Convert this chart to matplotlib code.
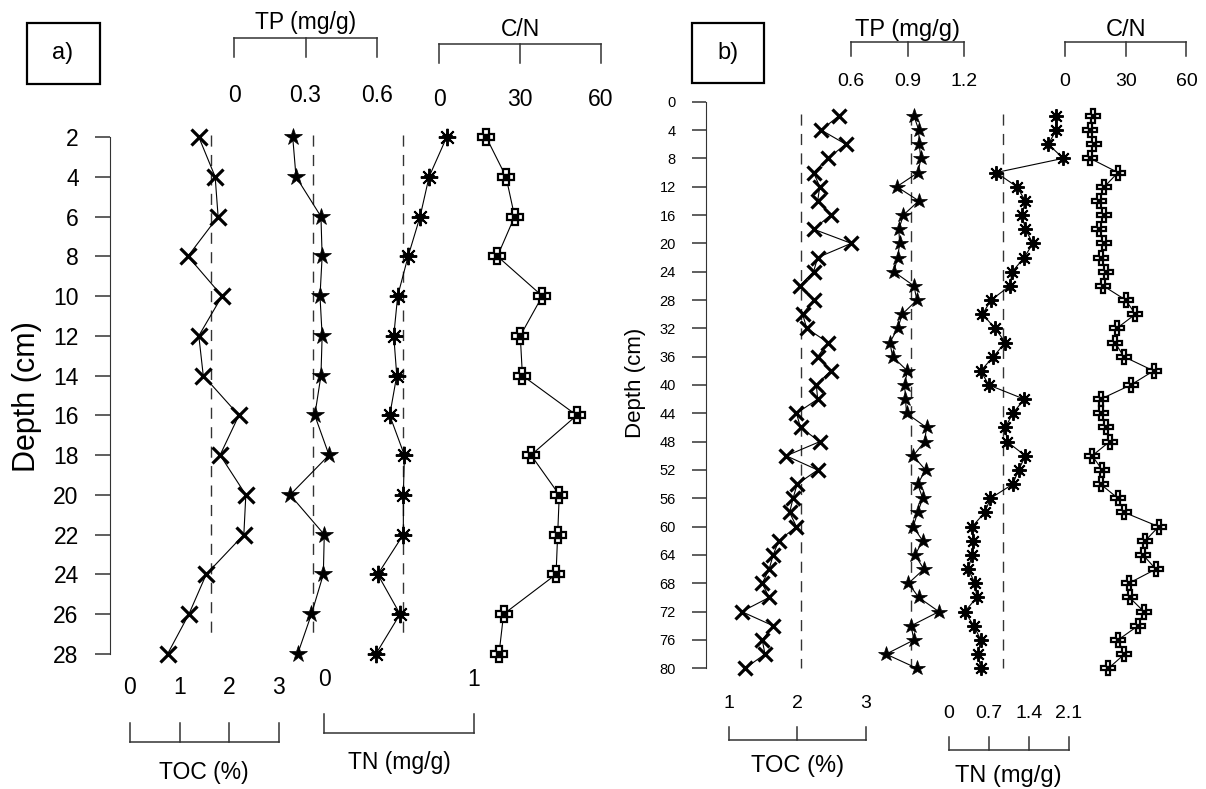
import numpy as np
import matplotlib
matplotlib.use("Agg")
import matplotlib.pyplot as plt
from matplotlib.transforms import blended_transform_factory

W, H = 1206, 789
FAM = ["Liberation Sans", "DejaVu Sans"]

# ---- panel a data (depth in cm) ----
depth_a = [2, 4, 6, 8, 10, 12, 14, 16, 18, 20, 22, 24, 26, 28]
toc_a = [1.39, 1.72, 1.78, 1.17, 1.86, 1.39, 1.48, 2.20, 1.82, 2.34, 2.30, 1.54, 1.19, 0.76]
tp_a = [0.246, 0.26, 0.365, 0.37, 0.361, 0.37, 0.365, 0.339, 0.399, 0.235, 0.379, 0.375, 0.325, 0.267]
tn_a = [0.818, 0.70, 0.64, 0.56, 0.49, 0.464, 0.484, 0.437, 0.535, 0.528, 0.528, 0.357, 0.506, 0.345]
cn_a = [17.4, 24.8, 28.0, 21.6, 38.3, 30.1, 30.9, 51.1, 34.1, 44.6, 44.0, 43.4, 23.9, 22.2]
mean_a = {"toc": 1.64, "tp": 0.333, "tn": 0.528}

# ---- panel b data ----
depth_b = [2, 4, 6, 8, 10, 12, 14, 16, 18, 20, 22, 24, 26, 28, 30, 32, 34, 36, 38, 40,
           42, 44, 46, 48, 50, 52, 54, 56, 58, 60, 62, 64, 66, 68, 70, 72, 74, 76, 78, 80]
toc_b = [2.61, 2.35, 2.71, 2.45, 2.24, 2.33, 2.30, 2.49, 2.24, 2.79, 2.30, 2.24, 2.04, 2.24,
         2.08, 2.14, 2.45, 2.30, 2.49, 2.28, 2.30, 1.99, 2.05, 2.33, 1.84, 2.30, 2.00, 1.94,
         1.89, 1.99, 1.73, 1.65, 1.59, 1.49, 1.59, 1.19, 1.65, 1.49, 1.53, 1.24]
tp_b = [0.933, 0.959, 0.961, 0.970, 0.955, 0.842, 0.959, 0.877, 0.853, 0.857, 0.847, 0.826,
        0.933, 0.949, 0.871, 0.847, 0.805, 0.820, 0.898, 0.884, 0.888, 0.894, 1.000, 0.990,
        0.929, 0.995, 0.953, 0.980, 0.953, 0.929, 0.980, 0.939, 0.986, 0.904, 0.959, 1.066,
        0.918, 0.933, 0.785, 0.949]
tn_b = [1.87, 1.88, 1.74, 2.00, 0.83, 1.19, 1.34, 1.28, 1.34, 1.47, 1.32, 1.11, 1.07, 0.74,
        0.59, 0.81, 0.99, 0.78, 0.56, 0.70, 1.32, 1.12, 0.99, 1.02, 1.34, 1.22, 1.12, 0.73,
        0.63, 0.41, 0.43, 0.41, 0.34, 0.46, 0.49, 0.28, 0.44, 0.56, 0.51, 0.56]
cn_b = [13.8, 12.4, 14.3, 12.4, 26.2, 19.5, 17.0, 19.1, 16.6, 19.1, 17.6, 20.1, 18.9, 30.0,
        34.8, 25.6, 24.7, 29.1, 43.8, 32.5, 17.6, 17.6, 20.5, 22.0, 13.4, 18.5, 17.6, 26.2,
        29.4, 46.3, 39.6, 38.6, 44.9, 31.5, 31.9, 39.0, 36.1, 26.2, 29.4, 21.5]
mean_b = {"toc": 2.06, "tp": 0.92, "tn": 0.95}

fig = plt.figure(figsize=(W / 100, H / 100), dpi=100)


def fy(py):
    return 1 - py / H


def column(px0, k, v0, d0, kd):
    # value v sits at pixel x = px0 + k*(v - v0); depth d at pixel y = d0 + kd*d
    ax = fig.add_axes([0, 0, 1, 1])
    ax.set_xlim(v0 - px0 / k, v0 + (W - px0) / k)
    ax.set_ylim((H - d0) / kd, -d0 / kd)
    ax.set_axis_off()
    return ax


def bracket(ax, ticks, labels, py_line, py_tick, py_lab, title, py_title, fs_lab, fs_title):
    tr = blended_transform_factory(ax.transData, fig.transFigure)
    ax.plot([ticks[0], ticks[-1]], [fy(py_line)] * 2, color="#333333", lw=1.1,
            transform=tr, clip_on=False)
    for t, lab in zip(ticks, labels):
        ax.plot([t, t], [fy(py_line), fy(py_tick)], color="#333333", lw=1.1,
                transform=tr, clip_on=False)
        ax.text(t, fy(py_lab), lab, transform=tr, ha="center", va="center",
                fontsize=fs_lab, family=FAM)
    ax.text((ticks[0] + ticks[-1]) / 2, fy(py_title), title, transform=tr,
            ha="center", va="center", fontsize=fs_title, family=FAM)


def link(ax, x, d):
    ax.plot(x, d, color="k", lw=0.8, zorder=2)


def mark_toc(ax, x, d, ms):
    link(ax, x, d)
    ax.plot(x, d, ls="none", marker="x", ms=ms, mew=2.3, color="k", zorder=3)


def mark_tp(ax, x, d, ms):
    link(ax, x, d)
    ax.plot(x, d, ls="none", marker="*", ms=ms, mew=0.5, color="k", zorder=3)


def mark_tn(ax, x, d, ms):
    link(ax, x, d)
    ax.plot(x, d, ls="none", marker=(8, 2, 0), ms=ms, mew=1.4, color="k", zorder=3)
    ax.plot(x, d, ls="none", marker="*", ms=ms * 0.6, color="k", zorder=3)


def mark_cn(ax, x, d, ms):
    link(ax, x, d)
    ax.plot(x, d, ls="none", marker="P", ms=ms, mew=1.6, mfc="white", mec="k", zorder=3)
    ax.plot(x, d, ls="none", marker="s", ms=ms * 0.32, color="k", zorder=4)


def mean_line(ax, m, d1, d2):
    ax.plot([m, m], [d1, d2], color="#333333", lw=1.0, ls=(0, (8, 6)), zorder=1)


def depth_axis(px, d0, kd, bounds, ticks, tick_len, fs, pad):
    ax = fig.add_axes([px / W, 0, 0.001, 1])
    ax.set_ylim((H - d0) / kd, -d0 / kd)
    for s in ["top", "right", "bottom"]:
        ax.spines[s].set_visible(False)
    ax.spines["left"].set_bounds(*bounds)
    ax.spines["left"].set_color("#333333")
    ax.patch.set_visible(False)
    ax.set_xticks([])
    ax.set_yticks(ticks)
    ax.tick_params(axis="y", length=tick_len, width=1.1, color="#333333", pad=pad)
    for lab in ax.get_yticklabels():
        lab.set_family(FAM)
        lab.set_fontsize(fs)
    return ax


# ================= panel a =================
d0a, kda = 97.24, 19.88
ax = column(130, 49.5, 0, d0a, kda)
mean_line(ax, mean_a["toc"], 1.9, 27.0)
mark_toc(ax, toc_a, depth_a, 11.5)
bracket(ax, [0, 1, 2, 3], ["0", "1", "2", "3"], 742, 723, 688, "TOC (%)", 773, 16.5, 16.5)

ax = column(234.3, 237.4, 0, d0a, kda)
mean_line(ax, mean_a["tp"], 1.9, 27.0)
mark_tp(ax, tp_a, depth_a, 13)
bracket(ax, [0, 0.3, 0.6], ["0", "0.3", "0.6"], 38, 57, 95, "TP (mg/g)", 23, 16.5, 16.5)

ax = column(324.3, 149.7, 0, d0a, kda)
mean_line(ax, mean_a["tn"], 1.9, 27.0)
mark_tn(ax, tn_a, depth_a, 12.5)
bracket(ax, [0, 1], ["0", "1"], 733, 714, 679, "TN (mg/g)", 763, 16.5, 16.5)

ax = column(439.3, 2.69, 0, d0a, kda)
mark_cn(ax, cn_a, depth_a, 11.5)
bracket(ax, [0, 30, 60], ["0", "30", "60"], 44, 63, 100, "C/N", 30, 16.5, 16.5)

depth_axis(110.3, d0a, kda, (2, 28), depth_a, 10.8, 16.5, 12)
fig.text(27 / W, fy(397), "Depth (cm)", rotation=90, ha="center", va="center",
         fontsize=22, family=FAM)
fig.patches.append(plt.Rectangle((27 / W, fy(84)), 73 / W, 61 / H, fill=False,
                                 lw=1.6, ec="k", transform=fig.transFigure))
fig.text(63 / W, fy(53), "a)", ha="center", va="center", fontsize=17, family=FAM)

# ================= panel b =================
d0b, kdb = 101.7, 7.0825
ax = column(728.7, 68.45, 1, d0b, kdb)
mean_line(ax, mean_b["toc"], 1.8, 80)
mark_toc(ax, toc_b, depth_b, 9.5)
bracket(ax, [1, 2, 3], ["1", "2", "3"], 740, 727, 703, "TOC (%)", 766, 14, 17)

ax = column(851.3, 188.0, 0.6, d0b, kdb)
mean_line(ax, mean_b["tp"], 1.8, 80)
mark_tp(ax, tp_b, depth_b, 11.5)
bracket(ax, [0.6, 0.9, 1.2], ["0.6", "0.9", "1.2"], 42, 56, 82, "TP (mg/g)", 30, 14, 17)

ax = column(948.7, 57.24, 0, d0b, kdb)
mean_line(ax, mean_b["tn"], 1.8, 80)
mark_tn(ax, tn_b, depth_b, 10.5)
bracket(ax, [0, 0.7, 1.4, 2.1], ["0", "0.7", "1.4", "2.1"], 750, 737, 713, "TN (mg/g)", 776, 14, 17)

ax = column(1065, 2.023, 0, d0b, kdb)
mark_cn(ax, cn_b, depth_b, 9.5)
bracket(ax, [0, 30, 60], ["0", "30", "60"], 42, 56, 82, "C/N", 30, 14, 17)

depth_axis(706, d0b, kdb, (0, 80), list(range(0, 81, 4)), 10.3, 10.5, 11.3)
fig.text(635 / W, fy(383), "Depth (cm)", rotation=90, ha="center", va="center",
         fontsize=16, family=FAM)
fig.patches.append(plt.Rectangle((691.6 / W, fy(83.3)), 72.7 / W, 60.6 / H, fill=False,
                                 lw=1.6, ec="k", transform=fig.transFigure))
fig.text(728 / W, fy(53), "b)", ha="center", va="center", fontsize=17, family=FAM)

fig.savefig("out.png", dpi=100)
